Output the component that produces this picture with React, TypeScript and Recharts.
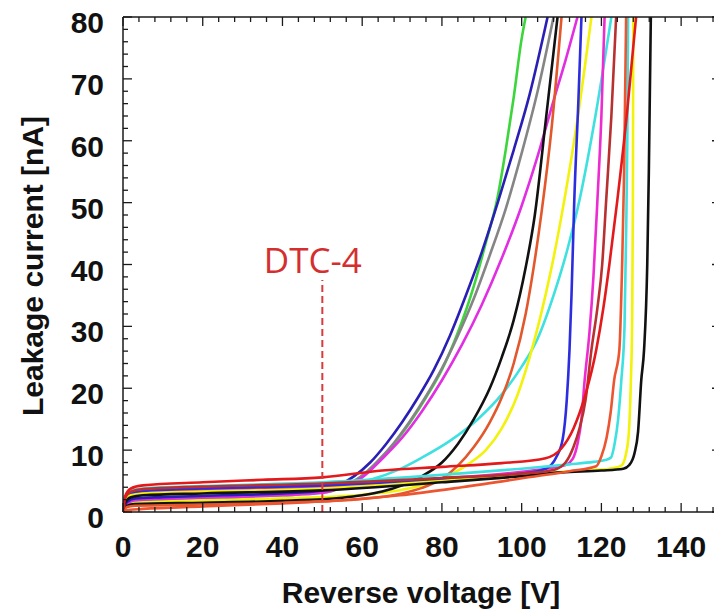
import React from 'react';
import { LineChart, Line, XAxis, YAxis, ReferenceLine, ReferenceDot, Label } from 'recharts';

// ---- axis ticks ----
const xTicks = [0, 4, 8, 12, 16, 20, 24, 28, 32, 36, 40, 44, 48, 52, 56, 60, 64, 68, 72, 76, 80, 84, 88, 92, 96, 100, 104, 108, 112, 116, 120, 124, 128, 132, 136, 140, 144, 148];
const xMajor = [0, 20, 40, 60, 80, 100, 120, 140];
const yTicks = [0, 2, 4, 6, 8, 10, 12, 14, 16, 18, 20, 22, 24, 26, 28, 30, 32, 34, 36, 38, 40, 42, 44, 46, 48, 50, 52, 54, 56, 58, 60, 62, 64, 66, 68, 70, 72, 74, 76, 78, 80];
const yMajor = [0, 10, 20, 30, 40, 50, 60, 70, 80];

// ---- DTC-4 marker ----
const dtcLabel = 'DTC-4';
const dtcVoltage = 50;
const dtcTop = 37.5;
const dtcLabelPos = { v: 47.6, i: 40.6 };

// ---- curves: [reverse voltage V, leakage current nA] ----
const greenCurve = [[0, 0.2], [1, 1.3], [3, 1.9], [10, 2.1], [25, 2.4], [40, 2.7], [50, 3.1], [55, 4.0], [60, 5.8], [64, 8.2], [68, 11], [72, 14.5], [76, 18.5], [80, 23], [84, 29], [88, 36.5], [91, 43.5], [94, 51], [96, 58.5], [98, 67], [100, 76.5], [101, 80]];
const grayCurve = [[0, 0.2], [1, 1.4], [3, 2.0], [10, 2.2], [25, 2.5], [40, 2.8], [50, 3.2], [55, 4.1], [60, 5.9], [64, 8.3], [68, 11.2], [72, 14.7], [76, 18.7], [80, 23.2], [84, 28.5], [88, 34.5], [92, 41.5], [96, 49], [100, 58], [104, 68], [108, 80]];
const magentaCurveA = [[0, 0.2], [1, 1.3], [3, 1.9], [10, 2.1], [25, 2.4], [40, 2.7], [50, 3.1], [55, 4.0], [60, 5.6], [65, 8.6], [70, 12], [75, 16.3], [80, 21.3], [85, 27], [90, 33.5], [95, 41], [100, 49.5], [104, 57.5], [108, 66.5], [111, 73], [114, 80]];
const blueCurveA = [[0, 0.2], [1, 1.6], [3, 2.2], [10, 2.4], [25, 2.7], [40, 3.0], [50, 3.5], [54, 4.3], [58, 5.8], [62, 8.0], [66, 11], [70, 14.5], [74, 18.5], [78, 23], [82, 28.5], [86, 35], [90, 42], [94, 50], [98, 58.5], [102, 67.5], [106.5, 80]];
const yellowCurveA = [[0, 0.2], [1, 1.2], [3, 1.6], [20, 1.9], [40, 2.2], [60, 2.8], [70, 3.6], [77, 4.7], [82, 6], [87, 7.9], [91, 10], [95, 13.5], [99, 19], [102, 25], [104.5, 31], [107.5, 39.5], [110.7, 50.4], [114, 63.5], [117.5, 80]];
const cyanCurveA = [[0, 0.2], [1, 2.0], [3, 2.7], [20, 3.1], [40, 3.7], [55, 4.3], [62, 5.2], [69, 6.8], [75, 8.8], [82, 11.5], [89, 15], [95, 19], [100, 23.5], [104, 28], [108, 35], [111.5, 42.5], [114.5, 50.4], [118.5, 64], [122.5, 80]];
const blackCurveA = [[0, 0.2], [1, 1.0], [3, 1.3], [20, 1.5], [40, 1.8], [55, 2.3], [60, 2.7], [65, 3.3], [70, 4.3], [75, 5.8], [80, 8], [84, 11], [88, 15], [92, 20], [95, 25], [98, 31], [101, 39.5], [103.3, 48], [106, 63], [109, 80]];
const orangeCurveA = [[0, 0.2], [1, 0.8], [3, 1.0], [20, 1.2], [40, 1.5], [60, 2.1], [70, 3.0], [75, 3.9], [80, 5.4], [84, 7.5], [88, 10.5], [92, 14.5], [95, 18.5], [98, 24], [101, 32], [103, 39.5], [105, 48.5], [107.5, 62], [110, 80]];
const magentaCurveB = [[0, 0], [0.5, 1.8], [2, 2.8], [5, 3.2], [20, 3.6], [50, 4.1], [80, 5.4], [100, 6.5], [108, 7.2], [111, 7.6], [112.8, 8.6], [114, 11], [115, 15], [115.8, 21.3], [117, 29], [118, 38], [119, 50.4], [120, 64], [120.8, 80]];
const blueCurveB = [[0, 0], [0.5, 2], [2, 3.0], [5, 3.4], [20, 3.8], [50, 4.3], [80, 5.3], [100, 6.2], [106, 7.0], [108.7, 8.9], [110.3, 11.8], [111.3, 18], [112, 26.2], [112.5, 35], [113.2, 50.4], [114.2, 66], [115, 80]];
const cyanCurveB = [[0, 0], [0.5, 2.3], [2, 3.4], [5, 3.8], [20, 4.2], [50, 4.8], [80, 6], [100, 7], [112, 7.7], [118, 8.1], [121, 8.4], [122.4, 8.8], [123.3, 11], [124.2, 15], [125, 21.3], [125.8, 30], [126.2, 45], [126.5, 60], [126.7, 80]];
const yellowCurveB = [[0, 0], [0.5, 1.8], [2, 2.7], [5, 3.0], [20, 3.3], [50, 3.8], [80, 5], [100, 6], [115, 6.7], [122, 7.0], [125, 7.5], [126.2, 9.5], [126.9, 13], [127.4, 21.3], [127.7, 30], [127.9, 50], [128, 80]];
const blackCurveB = [[0, 0], [0.5, 1.5], [2, 2.4], [5, 2.7], [20, 3.0], [50, 3.5], [80, 4.8], [100, 5.8], [110, 6.4], [120, 6.7], [125.5, 7.0], [127, 7.6], [128.3, 9.5], [129.2, 13], [130, 21.3], [130.7, 26.2], [131.5, 40], [131.9, 55], [132.4, 80]];
const brickCurve = [[0, 0], [0.5, 2.2], [2, 3.3], [5, 3.7], [20, 4.1], [50, 4.6], [80, 5.5], [100, 6.2], [108, 6.8], [111, 8], [113, 10.5], [114.5, 13.5], [116, 18], [117.5, 26.2], [119, 33], [120.2, 40], [121.2, 50.4], [122.5, 64], [123.7, 80]];
const tomatoCurve = [[0, 0], [0.5, 0.3], [5, 0.5], [20, 0.9], [40, 1.4], [55, 1.9], [69.5, 2.7], [85, 4], [102.7, 5.7], [112, 6.6], [118.7, 7.4], [120, 9], [121.3, 12], [122.3, 16], [123.2, 21.3], [124.5, 26.2], [125.2, 40], [125.7, 55], [126.2, 80]];
const redCurve = [[0, 0], [0.5, 2.5], [2, 3.8], [5, 4.3], [20, 4.8], [35, 5.2], [50, 5.6], [65, 6.7], [80, 7.3], [95, 7.9], [106, 8.7], [110, 10.3], [113, 13.5], [116, 19], [118.7, 26.2], [120.5, 33], [122, 40], [124, 50.4], [126.5, 65], [128.7, 80]];

const series = [
  { name: 'cyanA', points: cyanCurveA, color: '#3fe0e0' },
  { name: 'yellowA', points: yellowCurveA, color: '#f2f20a' },
  { name: 'green', points: greenCurve, color: '#3cd63c' },
  { name: 'gray', points: grayCurve, color: '#858585' },
  { name: 'magentaA', points: magentaCurveA, color: '#e22ee2' },
  { name: 'blueA', points: blueCurveA, color: '#2a1fb5' },
  { name: 'blackA', points: blackCurveA, color: '#111111' },
  { name: 'orangeA', points: orangeCurveA, color: '#e2572c' },
  { name: 'magentaB', points: magentaCurveB, color: '#ee2bd0' },
  { name: 'blueB', points: blueCurveB, color: '#2d2de0' },
  { name: 'cyanB', points: cyanCurveB, color: '#3fe0e0' },
  { name: 'yellowB', points: yellowCurveB, color: '#f2f20a' },
  { name: 'blackB', points: blackCurveB, color: '#111111' },
  { name: 'brick', points: brickCurve, color: '#b83030' },
  { name: 'tomato', points: tomatoCurve, color: '#ec5530' },
  { name: 'red', points: redCurve, color: '#e3191c' },
];

const FONT = '"Liberation Sans", Arial, Helvetica, sans-serif';
const AXIS = '#1a1a1a';

const BottomTick = (props: any) => {
  const { x, y, payload } = props;
  const major = xMajor.includes(payload.value);
  return (
    <g>
      <line x1={x} x2={x} y1={y} y2={y - (major ? 9 : 5)} stroke={AXIS} strokeWidth={1.3} />
      {major && (
        <text x={x} y={y + 45} textAnchor="middle" fontSize={30} fontWeight="bold" fontFamily={FONT} fill="#111">
          {payload.value}
        </text>
      )}
    </g>
  );
};

const TopTick = (props: any) => {
  const { x, y, payload } = props;
  const major = xMajor.includes(payload.value);
  return <line x1={x} x2={x} y1={y} y2={y + (major ? 9 : 5)} stroke={AXIS} strokeWidth={1.3} />;
};

const LeftTick = (props: any) => {
  const { x, y, payload } = props;
  const major = yMajor.includes(payload.value);
  return (
    <g>
      <line x1={x} x2={x + (major ? 9 : 5)} y1={y} y2={y} stroke={AXIS} strokeWidth={1.3} />
      {major && (
        <text x={x - 19} y={y + 16} textAnchor="end" fontSize={30} fontWeight="bold" fontFamily={FONT} fill="#111">
          {payload.value}
        </text>
      )}
    </g>
  );
};

const RightTick = (props: any) => {
  const { x, y, payload } = props;
  const major = yMajor.includes(payload.value);
  return <line x1={x} x2={x - (major ? 9 : 5)} y1={y} y2={y} stroke={AXIS} strokeWidth={1.3} />;
};

const XTitle = () => (
  <text x={421} y={603} textAnchor="middle" fontSize={30} fontWeight="bold" fontFamily={FONT} fill="#111">
    Reverse voltage [V]
  </text>
);

const YTitle = () => (
  <text transform="translate(43,266) rotate(-90)" textAnchor="middle" fontSize={30} fontWeight="bold" fontFamily={FONT} fill="#111">
    Leakage current [nA]
  </text>
);

const toRows = (pts: number[][]) => pts.map(([v, i]) => ({ v, i }));

export default function App() {
  return (
    <div style={{ position: 'fixed', left: 0, top: 0, width: 714, height: 610, overflow: 'hidden', background: '#ffffff' }}>
      <LineChart width={740} height={610} margin={{ top: 16, right: 18, bottom: 97, left: 122 }}>
        <XAxis
          dataKey="v"
          type="number"
          domain={[0, 150]}
          allowDataOverflow
          ticks={xTicks}
          interval={0}
          height={1}
          tickSize={0}
          tickMargin={0}
          tickLine={false}
          tick={<BottomTick />}
          axisLine={{ stroke: AXIS, strokeWidth: 1.5 }}
        >
          <Label content={<XTitle />} />
        </XAxis>
        <XAxis
          xAxisId="top"
          orientation="top"
          dataKey="v"
          type="number"
          domain={[0, 150]}
          allowDataOverflow
          ticks={xTicks}
          interval={0}
          height={1}
          tickSize={0}
          tickMargin={0}
          tickLine={false}
          tick={<TopTick />}
          axisLine={{ stroke: AXIS, strokeWidth: 1.5 }}
        />
        <YAxis
          type="number"
          domain={[0, 80]}
          allowDataOverflow
          ticks={yTicks}
          interval={0}
          width={1}
          tickSize={0}
          tickMargin={0}
          tickLine={false}
          tick={<LeftTick />}
          axisLine={{ stroke: AXIS, strokeWidth: 1.5 }}
        >
          <Label content={<YTitle />} />
        </YAxis>
        <YAxis
          yAxisId="right"
          orientation="right"
          type="number"
          domain={[0, 80]}
          allowDataOverflow
          ticks={yTicks}
          interval={0}
          width={1}
          tickSize={0}
          tickMargin={0}
          tickLine={false}
          tick={<RightTick />}
          axisLine={{ stroke: AXIS, strokeWidth: 1.5 }}
        />
        {series.map((s) => (
          <Line
            key={s.name}
            data={toRows(s.points)}
            dataKey="i"
            type="monotone"
            stroke={s.color}
            strokeWidth={2.6}
            dot={false}
            activeDot={false}
            isAnimationActive={false}
          />
        ))}
        <ReferenceLine
          segment={[{ x: dtcVoltage, y: 0 }, { x: dtcVoltage, y: dtcTop }]}
          stroke="#d83b3b"
          strokeWidth={2}
          strokeDasharray="7 4"
          ifOverflow="visible"
        />
        <ReferenceDot
          x={dtcLabelPos.v}
          y={dtcLabelPos.i}
          r={0}
          fill="none"
          stroke="none"
          ifOverflow="visible"
          label={{ value: dtcLabel, position: 'center', fill: '#d42f2f', fontSize: 35, fontFamily: '"Open Sans", "Noto Sans", sans-serif' }}
        />
      </LineChart>
    </div>
  );
}
